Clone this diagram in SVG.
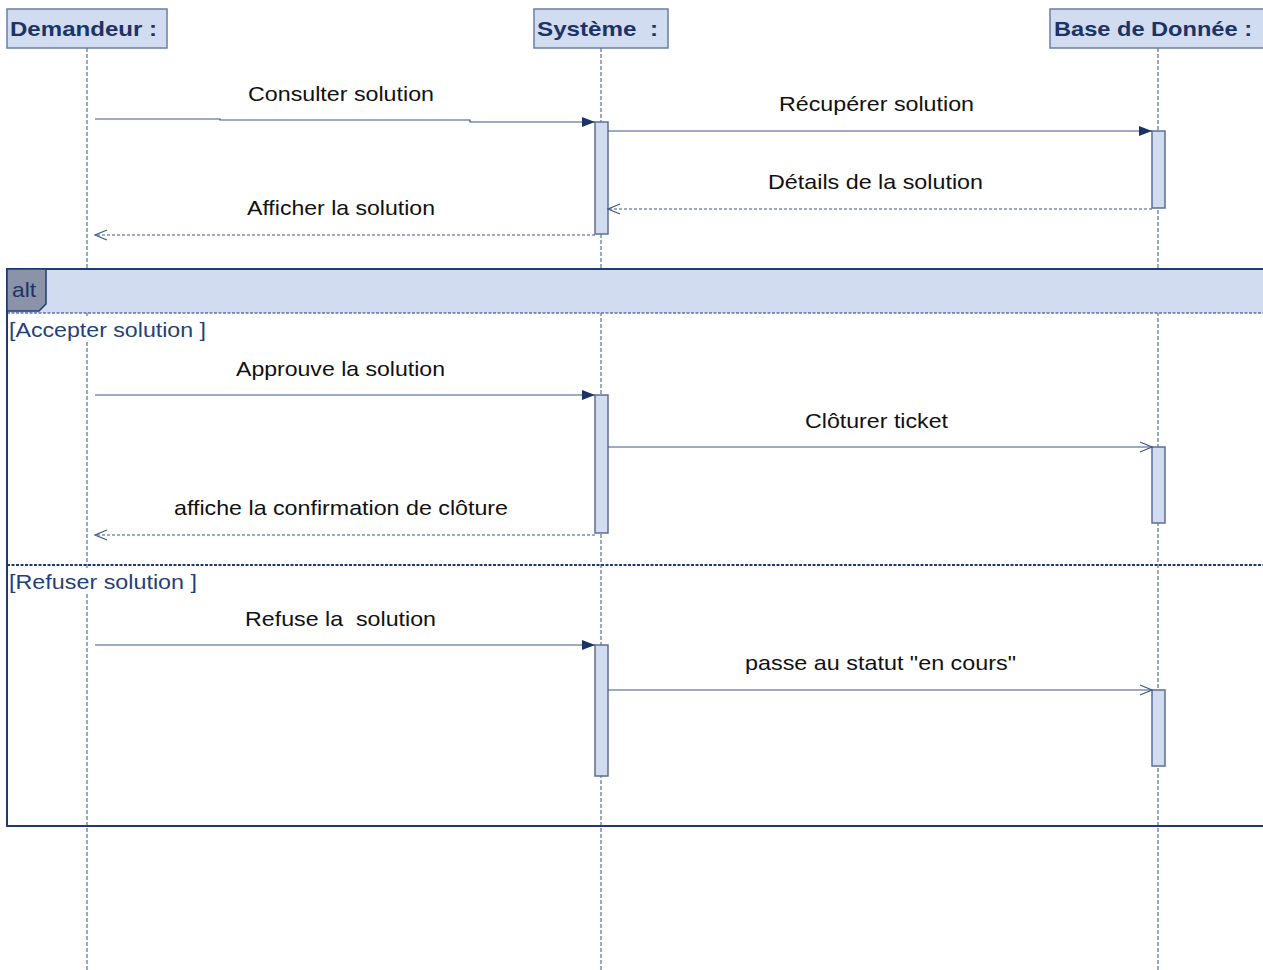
<svg xmlns="http://www.w3.org/2000/svg" width="1263" height="970" viewBox="0 0 1263 970">
  <style>
    .head { fill: #d1dcf0; stroke: #6b7ea6; stroke-width: 1.5; }
    .headtxt { font-family: "Liberation Sans", Arial, sans-serif; font-weight: bold; font-size: 21px; fill: #1c3366; }
    .life { stroke: #5d6e94; stroke-width: 1.2; stroke-dasharray: 4 2; fill: none; }
    .act { fill: #d1dcf0; stroke: #5d6e94; stroke-width: 1.5; }
    .msg { stroke: #3f5688; stroke-width: 1.2; fill: none; }
    .ret { stroke: #3f5688; stroke-width: 1.2; fill: none; stroke-dasharray: 3 2; }
    .lbl { font-family: "Liberation Sans", Arial, sans-serif; font-size: 21px; fill: #111; }
    .guard { font-family: "Liberation Sans", Arial, sans-serif; font-size: 21px; fill: #253f7a; }
    .frame { fill: none; stroke: #1f3a78; stroke-width: 2; }
  </style>
  <defs>
    <marker id="filled" markerWidth="14" markerHeight="10" refX="13" refY="5" orient="auto" markerUnits="userSpaceOnUse">
      <path d="M0,0 L13,5 L0,10 Z" fill="#1c3366"/>
    </marker>
    <marker id="open" markerWidth="14" markerHeight="12" refX="13" refY="6" orient="auto" markerUnits="userSpaceOnUse">
      <path d="M1,1 L13,6 L1,11" fill="none" stroke="#3f5688" stroke-width="1.2"/>
    </marker>
  </defs>

  <rect width="1263" height="970" fill="#ffffff"/>

  <!-- lifelines -->
  <g id="lifelines">
    <line class="life" x1="87" y1="48" x2="87" y2="970"/>
    <line class="life" x1="601" y1="48" x2="601" y2="970"/>
    <line class="life" x1="1158" y1="48" x2="1158" y2="970"/>
  </g>

  <!-- combined fragment "alt" -->
  <g id="alt-fragment">
    <rect x="7" y="269" width="1270" height="44" fill="#d1dcf0"/>
    <rect class="frame" x="7" y="269" width="1270" height="557"/>
    <line x1="7" y1="313" x2="1263" y2="313" stroke="#1f3a78" stroke-width="1.2" stroke-dasharray="3 1.5"/>
    <line x1="7" y1="565" x2="1263" y2="565" stroke="#1f3a78" stroke-width="2" stroke-dasharray="3 1.5"/>
    <path d="M7,269 L46,269 L46,304 L39,311 L7,311 Z" fill="#8a93a8" stroke="#1f3a78" stroke-width="1.5"/>
    <text x="12" y="297" font-family="'Liberation Sans', Arial, sans-serif" font-size="21" fill="#1c3366" textLength="24" lengthAdjust="spacingAndGlyphs">alt</text>
    <rect x="9" y="318" width="197" height="24" fill="#ffffff"/>
    <text class="guard" x="9" y="337" textLength="197" lengthAdjust="spacingAndGlyphs">[Accepter solution ]</text>
    <rect x="9" y="570" width="188" height="24" fill="#ffffff"/>
    <text class="guard" x="9" y="589" textLength="188" lengthAdjust="spacingAndGlyphs">[Refuser solution ]</text>
  </g>

  <!-- participants -->
  <g id="demandeur">
    <rect class="head" x="7" y="9" width="160" height="39"/>
    <text class="headtxt" x="10" y="36" textLength="147" lengthAdjust="spacingAndGlyphs">Demandeur :</text>
  </g>
  <g id="systeme">
    <rect class="head" x="534" y="9" width="134" height="39"/>
    <text class="headtxt" x="537" y="36" textLength="121" lengthAdjust="spacingAndGlyphs" xml:space="preserve">Système  :</text>
  </g>
  <g id="base-de-donnee">
    <rect class="head" x="1050" y="9" width="220" height="39"/>
    <text class="headtxt" x="1054" y="36" textLength="198" lengthAdjust="spacingAndGlyphs">Base de Donnée :</text>
  </g>

  <!-- activation bars -->
  <g id="activations">
    <rect class="act" x="595" y="122" width="13" height="112"/>
    <rect class="act" x="1152" y="131" width="13" height="77"/>
    <rect class="act" x="595" y="395" width="13" height="138"/>
    <rect class="act" x="1152" y="447" width="13" height="76"/>
    <rect class="act" x="595" y="645" width="13" height="131"/>
    <rect class="act" x="1152" y="690" width="13" height="76"/>
  </g>

  <!-- messages -->
  <g id="connectors">
    <polyline class="msg" points="95,119 220,119 220,120 470,120 470,122 595,122" marker-end="url(#filled)"/>
    <line class="msg" x1="608" y1="131" x2="1152" y2="131" marker-end="url(#filled)"/>
    <line class="ret" x1="1152" y1="209" x2="608" y2="209" marker-end="url(#open)"/>
    <line class="ret" x1="595" y1="235" x2="95" y2="235" marker-end="url(#open)"/>
    <line class="msg" x1="95" y1="395" x2="595" y2="395" marker-end="url(#filled)"/>
    <line class="msg" x1="608" y1="447" x2="1152" y2="447" marker-end="url(#open)"/>
    <line class="ret" x1="595" y1="535" x2="95" y2="535" marker-end="url(#open)"/>
    <line class="msg" x1="95" y1="645" x2="595" y2="645" marker-end="url(#filled)"/>
    <line class="msg" x1="608" y1="690" x2="1152" y2="690" marker-end="url(#open)"/>
  </g>

  <!-- message labels -->
  <g id="labels">
    <text class="lbl" x="248" y="101" textLength="186" lengthAdjust="spacingAndGlyphs">Consulter solution</text>
    <text class="lbl" x="779" y="111" textLength="195" lengthAdjust="spacingAndGlyphs">Récupérer solution</text>
    <text class="lbl" x="768" y="189" textLength="215" lengthAdjust="spacingAndGlyphs">Détails de la solution</text>
    <text class="lbl" x="247" y="215" textLength="188" lengthAdjust="spacingAndGlyphs">Afficher la solution</text>
    <text class="lbl" x="236" y="376" textLength="209" lengthAdjust="spacingAndGlyphs">Approuve la solution</text>
    <text class="lbl" x="805" y="428" textLength="143" lengthAdjust="spacingAndGlyphs">Clôturer ticket</text>
    <text class="lbl" x="174" y="515" textLength="334" lengthAdjust="spacingAndGlyphs">affiche la confirmation de clôture</text>
    <text class="lbl" x="245" y="626" textLength="191" lengthAdjust="spacingAndGlyphs" xml:space="preserve">Refuse la  solution</text>
    <text class="lbl" x="745" y="670" textLength="271" lengthAdjust="spacingAndGlyphs">passe au statut "en cours"</text>
  </g>
</svg>
